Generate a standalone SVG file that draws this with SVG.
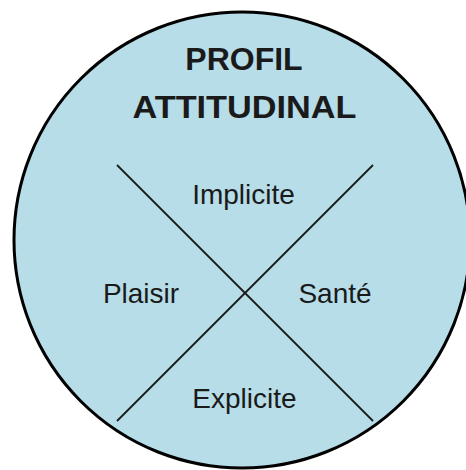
<svg xmlns="http://www.w3.org/2000/svg" width="466" height="470" viewBox="0 0 466 470">
  <style>
    .t { font-family: "Liberation Sans", Arial, sans-serif; fill: #1a1a1a; text-anchor: middle; }
    .title { font-size: 32px; font-weight: bold; }
    .lbl { font-size: 28px; }
    .ln { stroke: #1a1a1a; stroke-width: 1.8; fill: none; }
  </style>
  <rect width="466" height="470" fill="#ffffff"/>
  <g id="circle">
    <circle cx="242" cy="240" r="228" fill="#b7dde8" stroke="#000000" stroke-width="3"/>
  </g>
  <g id="connectors">
    <line class="ln" x1="117" y1="165" x2="373" y2="421"/>
    <line class="ln" x1="373" y1="165" x2="117" y2="421"/>
  </g>
  <g id="title">
    <text class="t title" x="244" y="70">PROFIL</text>
    <text class="t title" x="244.5" y="118" textLength="224" lengthAdjust="spacingAndGlyphs">ATTITUDINAL</text>
  </g>
  <g id="implicite"><text class="t lbl" x="243.5" y="204">Implicite</text></g>
  <g id="plaisir"><text class="t lbl" x="141" y="303">Plaisir</text></g>
  <g id="sante"><text class="t lbl" x="335" y="303">Santé</text></g>
  <g id="explicite"><text class="t lbl" x="244.5" y="408">Explicite</text></g>
</svg>
